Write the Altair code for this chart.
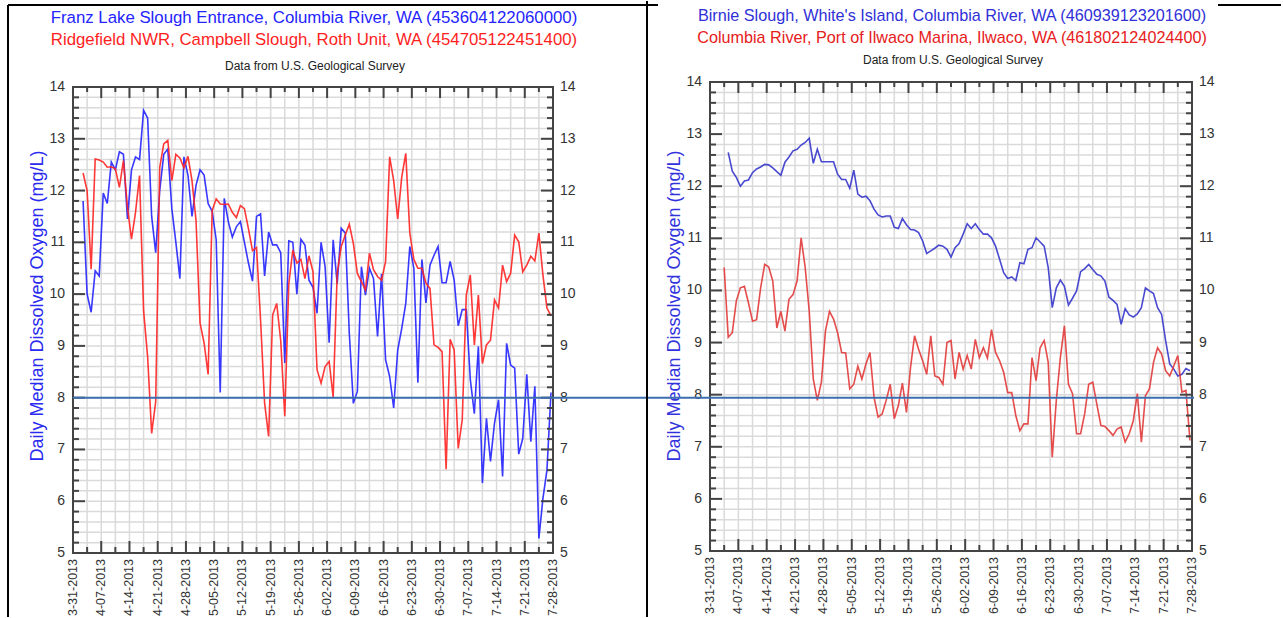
import altair as alt
import pandas as pd

FONT = "Liberation Sans"

# ---------------- data (daily medians, mg/L) ----------------
# day offsets are counted from 2013-03-31
left_blue_start = 2
left_blue = [11.8, 10.0, 9.65, 10.45, 10.35, 11.95, 11.75, 12.55, 12.4, 12.75,
             12.7, 11.45, 12.4, 12.65, 12.6, 13.55, 13.4, 11.5, 10.8, 12.0,
             12.7, 12.8, 11.65, 11.0, 10.3, 12.65, 12.3, 11.5, 12.1, 12.4,
             12.3, 11.75, 11.6, 11.05, 8.1, 11.85, 11.4, 11.1, 11.3, 11.4,
             11.0, 10.6, 10.25, 11.5, 11.55, 10.35, 11.2, 10.95, 10.95, 10.8,
             8.67, 11.03, 11.0, 10.0, 11.06, 10.95, 10.27, 10.13, 9.63, 11.0,
             10.53, 9.06, 11.05, 10.2, 11.27, 11.18, 9.24, 7.89, 8.12, 10.53,
             9.98, 10.5, 10.3, 9.18, 10.39, 8.73, 8.41, 7.8, 8.92, 9.34,
             9.82, 10.92, 10.5, 8.29, 10.67, 9.83, 10.56, 10.75, 10.92, 10.22,
             10.22, 10.63, 10.27, 9.39, 9.7, 9.7, 8.35, 7.69, 8.99, 6.35,
             7.6, 6.77, 7.51, 7.96, 6.48, 9.05, 8.63, 8.57, 6.91, 7.21,
             8.45, 7.15, 8.22, 5.28, 6.05, 6.6, 8.1]

left_red_start = 2
left_red = [12.34, 12.0, 10.48, 12.61, 12.59, 12.55, 12.45, 12.46, 12.42, 12.06,
            12.58, 11.68, 11.06, 11.58, 12.29, 9.68, 8.79, 7.31, 7.92, 12.45,
            12.9, 12.97, 12.19, 12.7, 12.63, 12.44, 12.66, 12.19, 11.42, 9.44,
            9.06, 8.45, 11.61, 11.84, 11.74, 11.73, 11.74, 11.58, 11.48, 11.71,
            11.65, 11.26, 10.84, 10.9, 9.5, 7.9, 7.25, 9.6, 9.82, 9.1,
            7.64, 10.2, 10.85, 10.6, 10.67, 10.3, 10.74, 10.43, 8.54, 8.28,
            8.6, 8.7, 8.01, 10.4, 10.92, 11.14, 11.35, 10.98, 10.4, 10.24,
            10.08, 10.79, 10.47, 10.34, 10.27, 10.63, 12.65, 12.19, 11.45, 12.26,
            12.72, 11.18, 10.67, 10.5, 10.5, 10.21, 10.11, 9.02, 8.97, 8.89,
            6.62, 9.13, 8.92, 7.02, 7.57, 9.98, 10.37, 9.02, 9.98, 8.66,
            9.02, 9.11, 9.89, 9.73, 10.56, 10.24, 10.4, 11.14, 11.01, 10.43,
            10.56, 10.73, 10.64, 11.18, 10.37, 9.73, 9.58]

right_blue_start = 4
right_blue = [12.65, 12.29, 12.17, 12.0, 12.1, 12.12, 12.26, 12.33, 12.37, 12.42,
              12.41, 12.35, 12.28, 12.21, 12.46, 12.56, 12.68, 12.71, 12.79, 12.84,
              12.92, 12.44, 12.71, 12.47, 12.47, 12.47, 12.47, 12.23, 12.13, 12.13,
              11.96, 12.31, 11.85, 11.79, 11.81, 11.72, 11.56, 11.45, 11.41, 11.43,
              11.43, 11.21, 11.19, 11.38, 11.26, 11.17, 11.16, 11.11, 10.95, 10.71,
              10.76, 10.81, 10.87, 10.85, 10.79, 10.64, 10.82, 10.9, 11.08, 11.28,
              11.19, 11.28, 11.17, 11.08, 11.08, 11.01, 10.85, 10.6, 10.34, 10.23,
              10.26, 10.19, 10.53, 10.51, 10.79, 10.82, 11.01, 10.93, 10.85, 10.44,
              9.67, 10.05, 10.2, 10.08, 9.72, 9.85, 9.99, 10.36, 10.42, 10.5,
              10.4, 10.31, 10.28, 10.18, 9.87, 9.81, 9.73, 9.35, 9.65, 9.53,
              9.49, 9.55, 9.67, 10.05, 9.99, 9.94, 9.67, 9.54, 9.03, 8.59,
              8.49, 8.36, 8.39, 8.5, 8.46]

right_red_start = 3
right_red = [10.44, 9.1, 9.19, 9.8, 10.05, 10.08, 9.76, 9.41, 9.44, 10.05,
             10.5, 10.45, 10.18, 9.28, 9.6, 9.22, 9.83, 9.92, 10.18, 11.01,
             10.44, 9.6, 8.3, 7.89, 8.24, 9.22, 9.6, 9.45, 9.19, 8.81,
             8.8, 8.11, 8.2, 8.55, 8.3, 8.59, 8.81, 7.95, 7.57, 7.63,
             7.89, 8.2, 7.54, 7.79, 8.22, 7.66, 8.52, 9.13, 8.87, 8.65,
             8.39, 9.13, 8.36, 8.33, 8.2, 9.0, 9.04, 8.3, 8.81, 8.49,
             8.75, 8.49, 9.06, 8.71, 8.9, 8.7, 9.25, 8.81, 8.65, 8.43,
             8.04, 8.04, 7.6, 7.31, 7.44, 7.44, 8.71, 8.27, 8.9, 9.04,
             8.62, 6.8, 7.89, 8.71, 9.32, 8.2, 8.02, 7.25, 7.25, 7.63,
             8.2, 8.24, 7.82, 7.41, 7.39, 7.31, 7.22, 7.34, 7.38, 7.09,
             7.25, 7.5, 8.02, 7.09, 7.98, 8.11, 8.62, 8.9, 8.78, 8.46,
             8.36, 8.55, 8.75, 8.05, 8.08, 7.12]

series_names = ["Franz Lake", "Ridgefield", "Birnie", "Ilwaco"]
series_colors = ["#2222ff", "#ff2222", "#3636cc", "#e23838"]

left_titles = ["Franz Lake Slough Entrance, Columbia River, WA (453604122060000)",
               "Ridgefield NWR, Campbell Slough, Roth Unit, WA (454705122451400)"]
right_titles = ["Birnie Slough, White's Island, Columbia River, WA (460939123201600)",
                "Columbia River, Port of Ilwaco Marina, Ilwaco, WA (461802124024400)"]
subtitle = "Data from U.S. Geological Survey"
y_title = "Daily Median Dissolved Oxygen (mg/L)"
threshold = 8
week_labels = ["3-31-2013", "4-07-2013", "4-14-2013", "4-21-2013", "4-28-2013",
               "5-05-2013", "5-12-2013", "5-19-2013", "5-26-2013", "6-02-2013",
               "6-09-2013", "6-16-2013", "6-23-2013", "6-30-2013", "7-07-2013",
               "7-14-2013", "7-21-2013", "7-28-2013"]
y_labels = ["5", "6", "7", "8", "9", "10", "11", "12", "13", "14"]
y_major = [5, 6, 7, 8, 9, 10, 11, 12, 13, 14]
y_values = [round(5 + 0.2 * i, 1) for i in range(46)]

# ---------------- helpers ----------------
T0 = pd.Timestamp("2013-03-31")


def iso(ts):
    return ts.strftime("%Y-%m-%dT%H:%M:%S")


def frame(start, values, name):
    dates = [iso(T0 + pd.Timedelta(days=start + i, hours=12)) for i in range(len(values))]
    return pd.DataFrame({"date": dates, "value": values, "series": name})


def dtobj(ts):
    return alt.DateTime(year=ts.year, month=ts.month, date=ts.day, hours=ts.hour)


half_weeks = [T0 + pd.Timedelta(hours=84 * i) for i in range(2 * len(week_labels) - 1)]
week_df = pd.DataFrame({"date": [iso(t) for t in half_weeks if t.hour == 0],
                        "label": week_labels})
half_df = pd.DataFrame({"date": [iso(t) for t in half_weeks]})
minor_x = pd.DataFrame({"date": [iso(t) for t in half_weeks if t.hour == 12]})
major_y = pd.DataFrame({"v": y_major, "label": y_labels})
minor_y = pd.DataFrame({"v": [v for v in y_values if v not in y_major]})
grid_y = pd.DataFrame({"v": y_values})
one = pd.DataFrame({"a": [0]})

CANVAS_W = 1119
CANVAS_H = 468
TICK = "#444444"
GRID = "#dadada"
LABEL = "#333333"

X_DOMAIN = [dtobj(half_weeks[0]), dtobj(half_weeks[-1])]

color = alt.Color("series:N", scale=alt.Scale(domain=series_names, range=series_colors),
                  legend=None)


def panel(df, x0, x1, top, bot, titles, title_colors, title_size, title_dy, ytitle_color):
    xs = alt.Scale(domain=X_DOMAIN, range=[x0, x1], nice=False)
    ys = alt.Scale(domain=[5, 14], range=[bot, top], nice=False, zero=False)
    X = lambda: alt.X("date:T", scale=xs, axis=None)
    Y = lambda: alt.Y("v:Q", scale=ys, axis=None)
    L = []
    # grid
    L.append(alt.Chart(half_df).mark_rule(color=GRID, strokeWidth=1.5).encode(
        x=X(), y=alt.value(top), y2=alt.value(bot)))
    L.append(alt.Chart(grid_y).mark_rule(color=GRID, strokeWidth=1.5).encode(
        y=Y(), x=alt.value(x0), x2=alt.value(x1)))
    # data lines
    L.append(alt.Chart(df).mark_line(strokeWidth=1.6, opacity=0.9).encode(
        x=X(), y=alt.Y("value:Q", scale=ys, axis=None), color=color, detail="series:N"))
    # inward ticks
    for data, ln in ((week_df, 12), (minor_x, 6)):
        L.append(alt.Chart(data).mark_rule(color=TICK, strokeWidth=2).encode(
            x=X(), y=alt.value(bot), y2=alt.value(bot - ln)))
        L.append(alt.Chart(data).mark_rule(color=TICK, strokeWidth=2).encode(
            x=X(), y=alt.value(top), y2=alt.value(top + ln - 1)))
    for data, ln in ((major_y, 12), (minor_y, 6)):
        L.append(alt.Chart(data).mark_rule(color=TICK, strokeWidth=2).encode(
            y=Y(), x=alt.value(x0), x2=alt.value(x0 + ln)))
        L.append(alt.Chart(data).mark_rule(color=TICK, strokeWidth=2).encode(
            y=Y(), x=alt.value(x1), x2=alt.value(x1 - ln)))
    # frame
    L.append(alt.Chart(one).mark_rect(fillOpacity=0, stroke=TICK, strokeWidth=2).encode(
        x=alt.value(x0), x2=alt.value(x1), y=alt.value(top), y2=alt.value(bot)))
    # tick labels
    L.append(alt.Chart(major_y).mark_text(align="right", baseline="middle", fontSize=14,
                                          color=LABEL).encode(
        y=Y(), x=alt.value(x0 - 8), text="label:N"))
    L.append(alt.Chart(major_y).mark_text(align="left", baseline="middle", fontSize=14,
                                          color=LABEL).encode(
        y=Y(), x=alt.value(x1 + 7), text="label:N"))
    L.append(alt.Chart(week_df).mark_text(angle=270, align="right", baseline="middle",
                                          fontSize=12.5, color=LABEL).encode(
        x=X(), y=alt.value(bot + 6), text="label:N"))
    # titles
    cx = (x0 + x1) / 2
    for i, (t, c) in enumerate(zip(titles, title_colors)):
        L.append(alt.Chart(one).mark_text(fontSize=title_size, color=c, align="center",
                                          baseline="middle").encode(
            x=alt.value(cx + 1), y=alt.value(-67 + title_dy + 22 * i), text=alt.value(t)))
    L.append(alt.Chart(one).mark_text(fontSize=12, color="#222222", align="center",
                                      baseline="middle").encode(
        x=alt.value(cx + 2), y=alt.value(-19 + title_dy * 3), text=alt.value(subtitle)))
    L.append(alt.Chart(one).mark_text(fontSize=18, color=ytitle_color, angle=270,
                                      align="center", baseline="middle").encode(
        x=alt.value(x0 - 35), y=alt.value(221), text=alt.value(y_title)))
    return L, ys


left_df = pd.concat([frame(left_blue_start, left_blue, "Franz Lake"),
                     frame(left_red_start, left_red, "Ridgefield")])
right_df = pd.concat([frame(right_blue_start, right_blue, "Birnie"),
                      frame(right_red_start, right_red, "Ilwaco")])

layers = []
lp, ys_left = panel(left_df, 0, 480, 2, 468, left_titles, ["#2424ff", "#ff1e1e"],
                    16.8, 0, "#2a2af0")
rp, ys_right = panel(right_df, 637, 1119, -3, 466, right_titles, ["#3030d8", "#e62020"],
                     16.2, -2, "#3333dd")
layers += lp + rp

# 8 mg/L reference line drawn across both panels
layers.append(alt.Chart(pd.DataFrame({"v": [threshold]})).mark_rule(
    color="#3d6fb0", strokeWidth=2).encode(
    y=alt.Y("v:Q", scale=ys_left, axis=None), x=alt.value(0), x2=alt.value(1121)))


# document table borders
def vline(x, y1, y2):
    return alt.Chart(one).mark_rule(color="black", strokeWidth=2).encode(
        x=alt.value(x), y=alt.value(y1), y2=alt.value(y2))


def hline(y, x1, x2):
    return alt.Chart(one).mark_rule(color="black", strokeWidth=2).encode(
        y=alt.value(y), x=alt.value(x1), x2=alt.value(x2))


layers += [vline(-65, -80, 532), hline(-80, -65, 585), vline(574, -84, 532),
           hline(-80, 1145, 1208)]

chart = alt.layer(*layers).resolve_scale(x="independent", y="independent").properties(
    width=CANVAS_W, height=CANVAS_H,
    padding={"left": 7, "top": 0, "right": 0, "bottom": 0}
).configure(font=FONT).configure_view(strokeWidth=0)

chart.save("out.html", embed_options={"renderer": "svg", "actions": False})
